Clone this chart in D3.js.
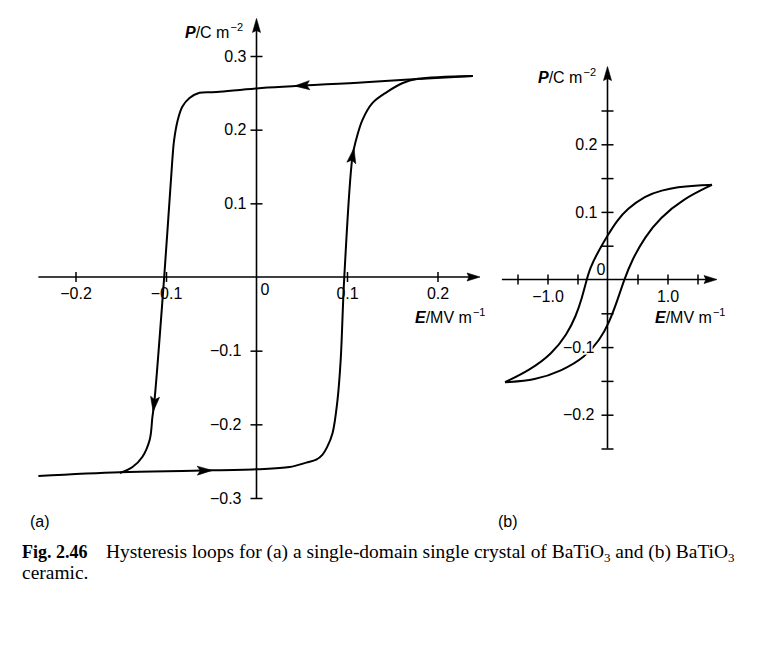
<!DOCTYPE html>
<html><head><meta charset="utf-8">
<script src="https://cdn.jsdelivr.net/npm/d3@7"></script>
<style>html,body{margin:0;padding:0;background:#fff;} svg{display:block;}</style>
</head><body><svg id="c" width="760" height="659"></svg>
<script>
// ---------- data (panel a: single-domain single crystal) ----------
const aUpperE = [0.239, 0.12, 0, -0.044, -0.063, -0.074, -0.082, -0.087, -0.091, -0.093, -0.102, -0.113, -0.115, -0.118, -0.126, -0.137, -0.151];
const aUpperP = [0.273, 0.2645, 0.256, 0.251, 0.250, 0.243, 0.231, 0.213, 0.186, 0.159, 0.0, -0.171, -0.190, -0.221, -0.244, -0.258, -0.266];
const aLowerE = [-0.241, -0.151, -0.07, 0, 0.0365, 0.055, 0.066, 0.073, 0.078, 0.084, 0.0895, 0.093, 0.097, 0.106, 0.110, 0.117, 0.128, 0.144, 0.161, 0.178, 0.239];
const aLowerP = [-0.270, -0.265, -0.263, -0.261, -0.258, -0.252, -0.248, -0.241, -0.231, -0.212, -0.167, -0.113, 0.0, 0.163, 0.186, 0.213, 0.236, 0.251, 0.263, 0.269, 0.273];
const aArrowE = [0.042, -0.113, -0.049, 0.108];
const aArrowP = [0.258, -0.183, -0.262, 0.175];
const aArrowBranch = ["upper", "upper", "lower", "lower"];
const aXTicks = [-0.2, -0.1, 0.1, 0.2];
const aYTicks = [-0.3, -0.2, -0.1, 0.1, 0.2, 0.3];

// ---------- data (panel b: ceramic) ----------
const bUpperE = [1.742, 1.458, 1.175, 0.908, 0.625, 0.325, 0.158, 0.008, -0.158, -0.292, -0.358, -0.425, -0.525, -0.675, -0.925, -1.292, -1.708];
const bUpperP = [0.140, 0.139, 0.137, 0.132, 0.124, 0.104, 0.087, 0.066, 0.041, 0.017, -0.004, -0.027, -0.054, -0.081, -0.110, -0.134, -0.152];
const bLowerE = [-1.708, -1.208, -0.758, -0.375, -0.125, 0.025, 0.158, 0.275, 0.408, 0.625, 0.875, 1.258, 1.742];
const bLowerP = [-0.152, -0.149, -0.135, -0.115, -0.089, -0.064, -0.033, -0.001, 0.029, 0.063, 0.091, 0.119, 0.140];
const bXTicks = [-1.5, -1.0, -0.5, 0.5, 1.0, 1.5];
const bXLabels = [-1.0, 1.0];
const bYTicks = [-0.25, -0.2, -0.15, -0.1, -0.05, 0.05, 0.1, 0.15, 0.2, 0.25];
const bYLabels = [-0.2, -0.1, 0.1, 0.2];

// ---------- drawing ----------
const svg = d3.select("#c");
svg.append("rect").attr("width", 760).attr("height", 659).attr("fill", "#fff");
const SANS = "'Liberation Sans', Arial, Helvetica, sans-serif";
const SERIF = "'Liberation Serif', 'Times New Roman', serif";
const fmt = d3.format(".1f");

function arrowHead(g, x, y, ang, len, hw, notch) {
  g.append("path")
    .attr("d", `M0,0 L${-len},${-hw} L${-len + notch},0 L${-len},${hw} Z`)
    .attr("transform", `translate(${x},${y}) rotate(${ang * 180 / Math.PI})`)
    .attr("fill", "#000").attr("stroke", "#000").attr("stroke-width", 0.6).attr("stroke-linejoin", "miter");
}

function axisTitle(g, x, y, sym, unit, exp) {
  const t = g.append("text").attr("x", x).attr("y", y)
    .attr("font-family", SANS).attr("font-size", 16).attr("fill", "#000");
  t.append("tspan").attr("font-weight", "bold").attr("font-style", "italic").text(sym);
  t.append("tspan").text("/" + unit);
  t.append("tspan").attr("font-size", 11).attr("dy", -7).attr("dx", 1).text(exp);
}

function drawPanel(cfg) {
  const g = svg.append("g");
  const x = cfg.x, y = cfg.y;
  g.append("line").attr("x1", x(cfg.xMin)).attr("x2", x(cfg.xMax) - 6)
    .attr("y1", y(0)).attr("y2", y(0)).attr("stroke", "#000").attr("stroke-width", 1.6);
  g.append("line").attr("x1", x(0)).attr("x2", x(0))
    .attr("y1", y(cfg.yMin)).attr("y2", y(cfg.yMax) + 6).attr("stroke", "#000").attr("stroke-width", 1.6);
  arrowHead(g, x(cfg.xMax), y(0), 0, 13, 4, 2);
  arrowHead(g, x(0), y(cfg.yMax), -Math.PI / 2, 14, 4, 2);

  const xa = g.append("g").attr("transform", `translate(0,${y(0)})`)
    .call(d3.axisBottom(x).tickValues(cfg.xTicks).tickSize(5).tickSizeOuter(0)
      .tickFormat(d => cfg.xLabels.some(v => Math.abs(v - d) < 1e-9) ? fmt(d) : ""));
  xa.select(".domain").remove();
  xa.selectAll(".tick line").attr("y1", -5).attr("y2", 5).attr("stroke-width", 1.5);
  xa.selectAll(".tick text").attr("y", 11).attr("font-family", SANS).attr("font-size", 16).attr("fill", "#000");

  const line = d3.line().x(d => x(d[0])).y(d => y(d[1])).curve(cfg.curve);
  const paths = {};
  cfg.branches.forEach(b => {
    const pts = b.E.map((e, i) => [e, b.P[i]]);
    paths[b.name] = g.append("path").datum(pts).attr("d", line)
      .attr("fill", "none").attr("stroke", "#000").attr("stroke-width", 2).attr("stroke-linejoin", "round").node();
  });

  // y axis drawn after the curves so its labels can knock the curve out (as printed)
  const ya = g.append("g").attr("transform", `translate(${x(0)},0)`)
    .call(d3.axisLeft(y).tickValues(cfg.yTicks).tickSize(6).tickSizeOuter(0)
      .tickFormat(d => cfg.yLabels.some(v => Math.abs(v - d) < 1e-9) ? fmt(d) : ""));
  ya.select(".domain").remove();
  ya.selectAll(".tick line").attr("x1", 6).attr("stroke-width", 1.5);
  ya.selectAll(".tick text").attr("x", d => d < 0 ? cfg.negOff : cfg.posOff)
    .attr("font-family", SANS).attr("font-size", 16).attr("fill", "#000")
    .attr("stroke", "#fff").attr("stroke-width", cfg.halo).attr("paint-order", "stroke");

  (cfg.arrows || []).forEach(a => {
    const node = paths[a.branch];
    const tx = x(a.E), ty = y(a.P);
    const L = node.getTotalLength();
    let best = 0, bd = Infinity;
    for (let l = 0; l <= L; l += 0.5) {
      const p = node.getPointAtLength(l);
      const d = (p.x - tx) ** 2 + (p.y - ty) ** 2;
      if (d < bd) { bd = d; best = l; }
    }
    const p0 = node.getPointAtLength(Math.max(0, best - 8));
    const p1 = node.getPointAtLength(best);
    arrowHead(g, p1.x, p1.y, Math.atan2(p1.y - p0.y, p1.x - p0.x), 15, 4.5, 3);
  });

  g.append("text").attr("x", x(0) + cfg.zeroDx).attr("y", y(0) + cfg.zeroDy)
    .attr("font-family", SANS).attr("font-size", 16).attr("fill", "#000").text("0");

  axisTitle(g, cfg.pTitle[0], cfg.pTitle[1], "P", "C m", "\u22122");
  axisTitle(g, cfg.eTitle[0], cfg.eTitle[1], "E", "MV m", "\u22121");

  g.append("text").attr("x", cfg.tag[0]).attr("y", cfg.tag[1])
    .attr("font-family", SANS).attr("font-size", 16).attr("fill", "#000").text(cfg.tagText);
}

drawPanel({
  x: d3.scaleLinear().domain([-0.2, 0.2]).range([75.5, 437.5]),
  y: d3.scaleLinear().domain([-0.3, 0.3]).range([498, 56]),
  xMin: -0.241, xMax: 0.247, yMin: -0.3, yMax: 0.351,
  xTicks: aXTicks, xLabels: aXTicks, yTicks: aYTicks, yLabels: aYTicks,
  posOff: -10, negOff: -15, halo: 0,
  curve: d3.curveCatmullRom.alpha(0.5),
  branches: [{ name: "upper", E: aUpperE, P: aUpperP }, { name: "lower", E: aLowerE, P: aLowerP }],
  arrows: aArrowE.map((e, i) => ({ E: e, P: aArrowP[i], branch: aArrowBranch[i] })),
  zeroDx: 4, zeroDy: 18,
  pTitle: [185, 38], eTitle: [415, 323],
  tag: [30, 527], tagText: "(a)"
});

drawPanel({
  x: d3.scaleLinear().domain([-1.5, 1.5]).range([517.5, 697.5]),
  y: d3.scaleLinear().domain([-0.25, 0.25]).range([448.5, 110.5]),
  xMin: -1.76, xMax: 1.825, yMin: -0.25, yMax: 0.315,
  xTicks: bXTicks, xLabels: bXLabels, yTicks: bYTicks, yLabels: bYLabels,
  posOff: -10, negOff: -13, halo: 3,
  curve: d3.curveBasis,
  branches: [{ name: "upperB", E: bUpperE, P: bUpperP }, { name: "lowerB", E: bLowerE, P: bLowerP }],
  arrows: [],
  zeroDx: -11, zeroDy: -5,
  pTitle: [538, 83], eTitle: [655, 323],
  tag: [498, 527], tagText: "(b)"
});

// ---------- caption ----------
const cap = svg.append("g").attr("font-family", SERIF).attr("fill", "#000");
const FS = 18;
cap.append("text").attr("x", 22).attr("y", 558).attr("font-size", FS).attr("font-weight", "bold").text("Fig. 2.46");
const t1 = cap.append("text").attr("x", 106).attr("y", 558).attr("font-size", FS);
t1.append("tspan").text("Hysteresis loops for (a) a single-domain single crystal of BaTiO");
const s1 = t1.append("tspan").attr("font-size", 12).attr("dy", 4).text("3");
t1.append("tspan").attr("dy", -4).text(" and (b) BaTiO");
const s2 = t1.append("tspan").attr("font-size", 12).attr("dy", 4).text("3");
const w = t1.node().getComputedTextLength();
const k = (735 - 106) / w;
t1.attr("font-size", FS * k);
s1.attr("font-size", 12 * k); s2.attr("font-size", 12 * k);
cap.append("text").attr("x", 22).attr("y", 579).attr("font-size", FS * k).text("ceramic.");
</script>
</body></html>
